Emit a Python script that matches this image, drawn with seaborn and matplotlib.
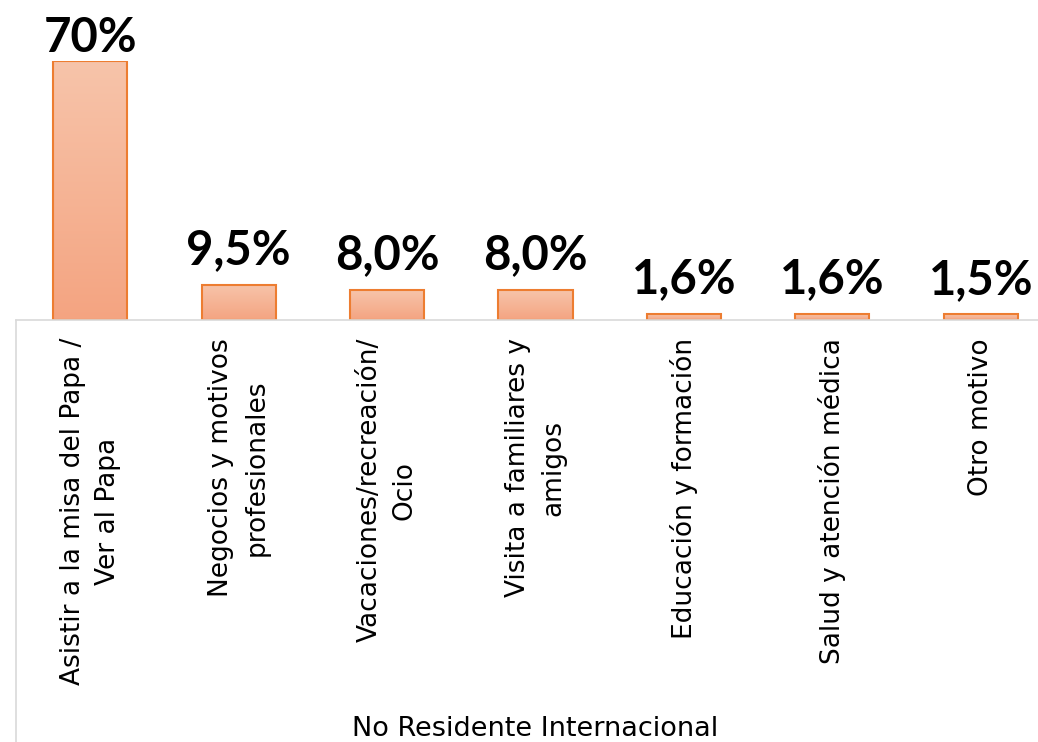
import numpy as np
import pandas as pd
import matplotlib
matplotlib.use("Agg")
import matplotlib.pyplot as plt
from matplotlib.colors import LinearSegmentedColormap
from matplotlib.lines import Line2D
import seaborn as sns

categories = [
    "Asistir a la misa del Papa /\nVer al Papa",
    "Negocios y motivos\nprofesionales",
    "Vacaciones/recreación/\nOcio",
    "Visita a familiares y\namigos",
    "Educación y formación",
    "Salud y atención médica",
    "Otro motivo",
]
values = [70.0, 9.5, 8.0, 8.0, 1.6, 1.6, 1.5]
value_labels = ["70%", "9,5%", "8,0%", "8,0%", "1,6%", "1,6%", "1,5%"]
axis_title = "No Residente Internacional"

sns.set_theme(style="white")
plt.rcParams["font.family"] = ["DejaVu Sans"]

W, H = 1038, 742
fig = plt.figure(figsize=(W / 100, H / 100), dpi=100)
ax = fig.add_axes([16 / W, (H - 320) / H, 1039 / W, 259 / H])

df = pd.DataFrame({"cat": categories, "val": values})
sns.barplot(data=df, x="cat", y="val", width=0.5, ax=ax,
            color="#F5B090", edgecolor="#ED7D31", linewidth=1.5)

cmap = LinearSegmentedColormap.from_list("g", ["#F4A481", "#F7C4AA"])
grad = np.linspace(0, 1, 256).reshape(-1, 1)
for p in ax.patches:
    x0, y0 = p.get_x(), p.get_y()
    w, h = p.get_width(), p.get_height()
    p.set_facecolor("none")
    im = ax.imshow(grad, cmap=cmap, origin="lower", aspect="auto",
                   extent=[x0, x0 + w, y0, y0 + h], zorder=p.get_zorder() - 0.1)
    im.set_clip_path(p)
ax.set_xlim(-0.5, 6.5)
ax.set_ylim(0, 70)

vmax = max(values)
for i, (v, lab) in enumerate(zip(values, value_labels)):
    # labels sit above the bar; the tallest one is pulled down to stay inside the figure
    off = 6.5 if v == vmax else 15
    ax.annotate(lab, (i, v), xytext=(0, off), textcoords="offset points",
                ha="center", va="baseline", fontsize=34, fontweight="bold",
                family="Lato", color="black", annotation_clip=False)

for s in ["top", "right", "left"]:
    ax.spines[s].set_visible(False)
ax.spines["bottom"].set_color("#D9D9D9")
ax.spines["bottom"].set_linewidth(1.2)
ax.set_yticks([])
ax.tick_params(axis="x", length=0, pad=13)
for t in ax.get_xticklabels():
    t.set_rotation(90)
    t.set_fontsize(19)
    t.set_linespacing(1.45)
    t.set_color("black")
ax.set_ylabel("")
ax.set_xlabel(axis_title, fontsize=19.5, color="black", va="top")
ax.xaxis.set_label_coords(0.5, (320 - 716) / 259)

fig.add_artist(Line2D([16 / W, 16 / W], [0, (H - 320) / H], color="#D9D9D9",
                      linewidth=1.2, transform=fig.transFigure))

fig.savefig("out.png", dpi=100)
